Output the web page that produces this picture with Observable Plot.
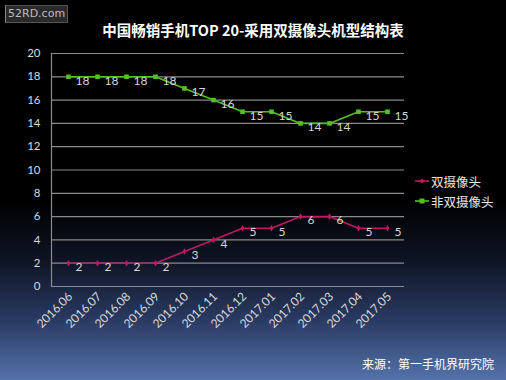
<!DOCTYPE html>
<html><head><meta charset="utf-8">
<script src="https://cdn.jsdelivr.net/npm/d3@7"></script>
<script src="https://cdn.jsdelivr.net/npm/@observablehq/plot@0.6"></script>
<style>
html,body{margin:0;padding:0;}
#wrap{position:relative;width:506px;height:380px;overflow:hidden;
background:linear-gradient(to bottom,#000 0px,#000 200px,#0e1424 260px,#2a3a62 320px,#5472aa 380px);
font-family:"Noto Sans CJK SC",sans-serif;}
#wrap svg{position:absolute;left:0;top:0;}
.ov{position:absolute;white-space:nowrap;}
</style></head><body>
<div id="wrap"></div>
<script>
const months = ["2016.06","2016.07","2016.08","2016.09","2016.10","2016.11","2016.12","2017.01","2017.02","2017.03","2017.04","2017.05"];
const dual = [2,2,2,2,3,4,5,5,6,6,5,5];
const nonDual = [18,18,18,18,17,16,15,15,14,14,15,15];
const seriesNames = ["双摄像头","非双摄像头"];
const yTicks = [0,2,4,6,8,10,12,14,16,18,20];
const title = "中国畅销手机TOP 20-采用双摄像头机型结构表";
const source = "来源：第一手机界研究院";
const watermark = "52RD.com";
const colors = ["#c01a62","#52c21e"];

const rows = [];
months.forEach((m,i)=>{rows.push({m, v:dual[i], s:seriesNames[0]}); rows.push({m, v:nonDual[i], s:seriesNames[1]});});
const dRows = rows.filter(r=>r.s===seriesNames[0]);
const nRows = rows.filter(r=>r.s===seriesNames[1]);

const chart = Plot.plot({
  width:506, height:380,
  marginLeft:51, marginRight:102, marginTop:53, marginBottom:94,
  style:{background:"transparent", color:"#d8d8d8", fontFamily:"Lato, sans-serif", fontSize:"11px"},
  x:{type:"point", domain:months, padding:0.5, label:null},
  y:{domain:[0,20], label:null},
  marks:[
    Plot.gridY(yTicks,{stroke:"#8a8a8a", strokeOpacity:1, strokeWidth:1.2}),
    Plot.frame({anchor:"left", stroke:"#8a8a8a", strokeWidth:1.2}),
    Plot.axisY(yTicks,{tickSize:0, tickPadding:11, fill:"#d8d8d8", fontSize:11.5}),
    Plot.axisX({tickSize:0, tickRotate:-45, tickPadding:8, fill:"#d8d8d8", fontSize:12, dx:2}),
    Plot.line(dRows,{x:"m", y:"v", stroke:colors[0], strokeWidth:1.6}),
    Plot.line(nRows,{x:"m", y:"v", stroke:colors[1], strokeWidth:1.6}),
    Plot.dot(dRows,{x:"m", y:"v", fill:colors[0], r:2, symbol:"diamond"}),
    Plot.dot(nRows,{x:"m", y:"v", fill:colors[1], r:2.6, symbol:"square"}),
    Plot.text(dRows,{x:"m", y:"v", text:"v", dx:7, dy:4, textAnchor:"start", fill:"#d8d8d8", fontSize:12}),
    Plot.text(nRows,{x:"m", y:"v", text:"v", dx:7, dy:4, textAnchor:"start", fill:"#d8d8d8", fontSize:12})
  ]
});
const wrap = document.getElementById("wrap");
wrap.appendChild(chart);

function ov(text, css){const d=document.createElement("div");d.className="ov";d.textContent=text;Object.assign(d.style,css);wrap.appendChild(d);return d;}
ov(watermark,{left:"5px",top:"5px",padding:"0 2px",background:"#2a2a2a",borderLeft:"1px solid #888",borderTop:"1px solid #555",borderRight:"1px solid #555",borderBottom:"1px solid #555",color:"#bdbdbd",fontSize:"11px",lineHeight:"16px",fontFamily:"DejaVu Sans, sans-serif"});
ov(title,{left:"0",width:"506px",top:"20px",textAlign:"center",color:"#fff",fontWeight:"bold",fontSize:"14.5px",lineHeight:"20px"});
ov(source,{right:"12px",top:"355px",color:"#fff",fontSize:"12px",lineHeight:"18px"});

seriesNames.forEach((n,i)=>{
  const y = 181 + i*20;
  const item = document.createElement("div");
  item.className="ov";
  Object.assign(item.style,{left:"414px",top:(y-9)+"px",height:"18px",display:"flex",alignItems:"center",color:"#e8e8e8",fontSize:"12.5px"});
  const sv = document.createElementNS("http://www.w3.org/2000/svg","svg");
  sv.setAttribute("width","16");sv.setAttribute("height","18");sv.style.position="static";
  sv.innerHTML = `<line x1="1" y1="9" x2="15" y2="9" stroke="${colors[i]}" stroke-width="1.6"/>`+
    (i===0?`<path d="M8 6.5 L10.5 9 L8 11.5 L5.5 9Z" fill="${colors[i]}"/>`:`<rect x="5.5" y="6.5" width="5" height="5" fill="${colors[i]}"/>`);
  item.appendChild(sv);
  const t=document.createElement("span");t.textContent=n;t.style.marginLeft="1px";item.appendChild(t);
  wrap.appendChild(item);
});
</script>
</body></html>
